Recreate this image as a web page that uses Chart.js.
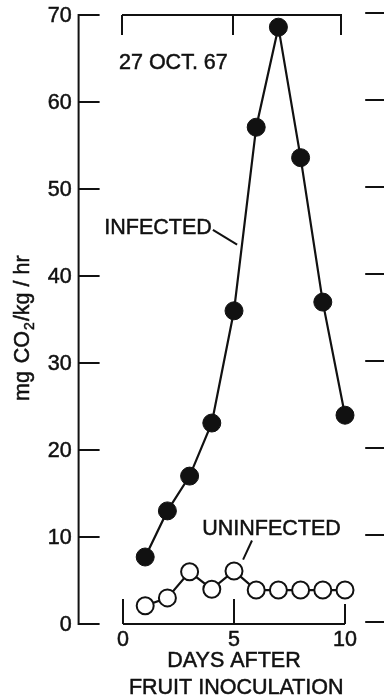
<!DOCTYPE html>
<html>
<head>
<meta charset="utf-8">
<script src="https://cdn.jsdelivr.net/npm/chart.js@4"></script>
<style>
  html, body { margin: 0; padding: 0; background: #fff; }
  canvas { display: block; }
</style>
</head>
<body>
<canvas id="respChart" width="384" height="699"></canvas>
<script>
// data
const days = [1, 2, 3, 4, 5, 6, 7, 8, 9, 10];
const infected = [7.7, 13.0, 17.0, 23.1, 36.0, 57.1, 68.6, 53.6, 37.0, 24.0];
const uninfected = [2.1, 3.0, 6.0, 4.0, 6.1, 3.9, 3.9, 3.9, 3.9, 3.9];
const yTicks = [0, 10, 20, 30, 40, 50, 60, 70];
const xTicks = [0, 5, 10];
const dateLabel = '27 OCT. 67';

const ink = '#111';
const font = '21.5px "Liberation Sans", Arial, sans-serif';
const subFont = '14px "Liberation Sans", Arial, sans-serif';

function seg(ctx, x1, y1, x2, y2) {
  ctx.beginPath();
  ctx.moveTo(x1, y1);
  ctx.lineTo(x2, y2);
  ctx.stroke();
}

// slightly heavier lettering, like the original ink
function txt(ctx, s, px, py) {
  ctx.fillText(s, px, py);
  ctx.save();
  ctx.lineWidth = 0.5;
  ctx.strokeText(s, px, py);
  ctx.restore();
}

// axes, brackets and labels drawn against the chart's own scales
const frame = {
  id: 'frame',
  beforeDatasetsDraw(chart) {
    const { ctx, scales: { x, y } } = chart;
    ctx.save();
    ctx.strokeStyle = ink;
    ctx.fillStyle = ink;
    ctx.lineWidth = 2;
    ctx.font = font;

    const axisX = x.getPixelForValue(-2);
    const yBot = y.getPixelForValue(0);
    const yTop = y.getPixelForValue(70);

    // left y axis with inward ticks
    seg(ctx, axisX, yTop - 1, axisX, yBot + 1);
    ctx.textAlign = 'right';
    ctx.textBaseline = 'middle';
    yTicks.forEach(v => {
      const py = y.getPixelForValue(v);
      seg(ctx, axisX, py, axisX + 21, py);
      txt(ctx, String(v), axisX - 7, py + 1);
    });

    // ticks of the neighbouring panel on the right
    const rx = x.getPixelForValue(11) - 2;
    yTicks.forEach(v => {
      const py = y.getPixelForValue(v) - 2;
      seg(ctx, rx, py, chart.width, py);
    });

    // bottom x bracket
    const bx0 = x.getPixelForValue(0), bx1 = x.getPixelForValue(10);
    seg(ctx, bx0, yBot, bx1, yBot);
    ctx.textAlign = 'center';
    xTicks.forEach(v => {
      const px = x.getPixelForValue(v);
      seg(ctx, px, yBot, px, yBot - (v === 10 ? 20 : 25));
      txt(ctx, String(v), px, yBot + 16);
    });

    // top bracket
    const ty = yTop;
    seg(ctx, bx0 - 1, ty, bx1 - 3, ty);
    xTicks.forEach(v => {
      const px = x.getPixelForValue(v) - (v === 10 ? 4 : 1);
      seg(ctx, px, ty, px, ty + 20);
    });

    // axis titles
    txt(ctx, 'DAYS AFTER', x.getPixelForValue(5), yBot + 37);
    txt(ctx, 'FRUIT INOCULATION', x.getPixelForValue(5.1), yBot + 64);

    ctx.save();
    ctx.translate(23, y.getPixelForValue(34));
    ctx.rotate(-Math.PI / 2);
    ctx.textAlign = 'left';
    const p1 = 'mg CO', p3 = '/kg / hr';
    ctx.font = font;
    const w1 = ctx.measureText(p1).width + 2;
    const w3 = ctx.measureText(p3).width;
    ctx.font = subFont;
    const w2 = ctx.measureText('2').width;
    const start = -(w1 + w2 + w3 + 2) / 2;
    ctx.font = font;
    txt(ctx, 'mg', start, 0);
    txt(ctx, 'CO', start + ctx.measureText('mg ').width + 2, 0);
    ctx.font = subFont;
    txt(ctx, '2', start + w1 + 1, 7);
    ctx.font = font;
    txt(ctx, p3, start + w1 + w2 + 2, 0);
    ctx.restore();

    // date and series labels with leader lines
    ctx.textAlign = 'left';
    txt(ctx, dateLabel, x.getPixelForValue(-0.18), y.getPixelForValue(64.5));

    ctx.textAlign = 'right';
    txt(ctx, 'INFECTED', x.getPixelForValue(4.0), y.getPixelForValue(45.5));
    seg(ctx, x.getPixelForValue(4.05), y.getPixelForValue(45.3),
             x.getPixelForValue(5.14), y.getPixelForValue(43.6));

    ctx.textAlign = 'center';
    txt(ctx, 'UNINFECTED', x.getPixelForValue(6.69), y.getPixelForValue(10.9));
    seg(ctx, x.getPixelForValue(5.81), y.getPixelForValue(9.6),
             x.getPixelForValue(5.41), y.getPixelForValue(7.4));

    ctx.restore();
  }
};

new Chart(document.getElementById('respChart'), {
  type: 'line',
  data: {
    labels: days,
    datasets: [
      {
        label: 'INFECTED',
        data: days.map((d, i) => ({ x: d, y: infected[i] })),
        borderColor: ink,
        borderWidth: 2.2,
        pointRadius: 9,
        pointBackgroundColor: ink,
        pointBorderColor: ink,
        pointBorderWidth: 1,
        tension: 0,
        clip: false
      },
      {
        label: 'UNINFECTED',
        data: days.map((d, i) => ({ x: d, y: uninfected[i] })),
        borderColor: ink,
        borderWidth: 2.2,
        pointRadius: 8.5,
        pointBackgroundColor: '#fff',
        pointBorderColor: ink,
        pointBorderWidth: 2,
        tension: 0,
        clip: false
      }
    ]
  },
  options: {
    responsive: false,
    animation: false,
    devicePixelRatio: 1,
    layout: { padding: { left: 78.6, right: 16.8, top: 15, bottom: 75 } },
    plugins: {
      legend: { display: false },
      tooltip: { enabled: false }
    },
    scales: {
      x: { type: 'linear', min: -2, max: 11, display: false },
      y: { min: 0, max: 70, display: false }
    }
  },
  plugins: [frame]
});
</script>
</body>
</html>
